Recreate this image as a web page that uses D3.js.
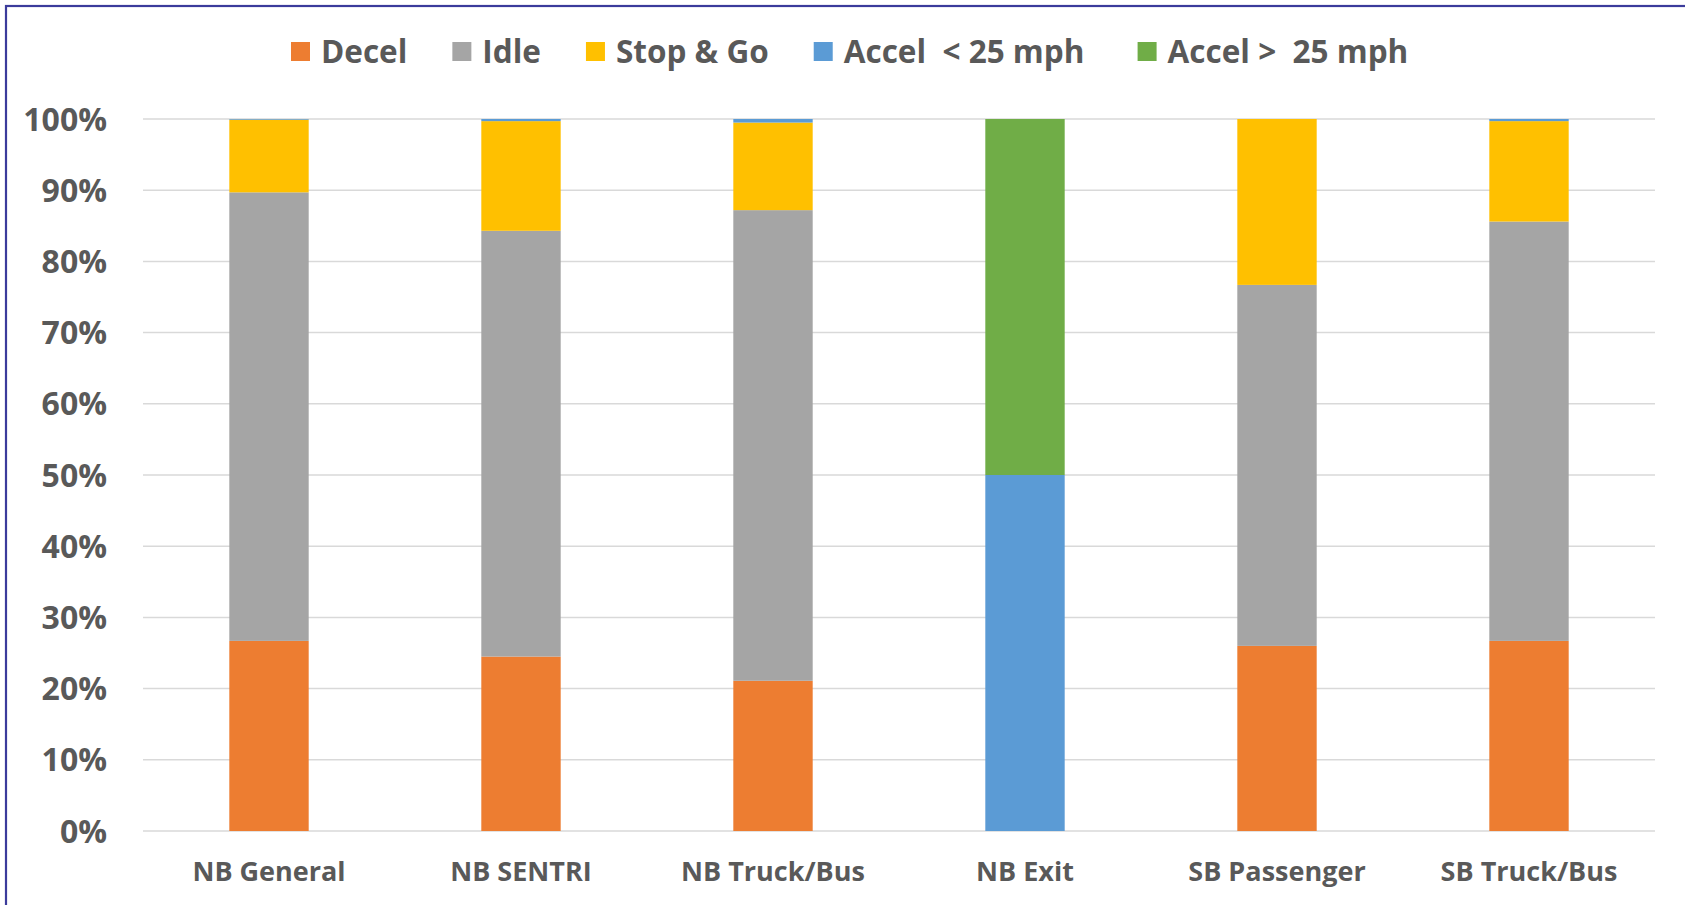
<!DOCTYPE html>
<html lang="en">
<head>
  <meta charset="UTF-8">
  <title>Drive mode share</title>
  <script src="https://d3js.org/d3.v7.min.js"></script>
  <style>
    * { margin: 0; padding: 0; box-sizing: border-box; }
    body { background: #fff; width: 1685px; height: 905px; overflow: hidden; }
    svg text { font-family: 'Open Sans', 'Lato', sans-serif; font-weight: bold; fill: #595959; white-space: pre; }
    .grid line { stroke: #d9d9d9; stroke-width: 1.5px; }
  </style>
</head>
<body>
  <svg id="chart" width="1685" height="905"></svg>
  <script>
    // data (percent of time)
    var categories = ["NB General", "NB SENTRI", "NB Truck/Bus", "NB Exit", "SB Passenger", "SB Truck/Bus"];
    var seriesNames = ["Decel", "Idle", "Stop & Go", "Accel  < 25 mph ", "Accel >  25 mph"];
    var decel    = [26.7, 24.5, 21.1, 0, 26.0, 26.7];
    var idle     = [63.0, 59.8, 66.1, 0, 50.7, 58.9];
    var stopGo   = [10.2, 15.4, 12.3, 0, 23.3, 14.1];
    var accelLo  = [0.1, 0.3, 0.5, 50, 0, 0.3];
    var accelHi  = [0, 0, 0, 50, 0, 0];
    var yTicks   = [0, 10, 20, 30, 40, 50, 60, 70, 80, 90, 100];
    var colors   = ["#ed7d31", "#a5a5a5", "#ffc000", "#5b9bd5", "#70ad47"];

    var svg = d3.select("#chart");

    // frame
    svg.append("rect")
      .attr("x", 6).attr("y", 6)
      .attr("width", 1700).attr("height", 920)
      .attr("fill", "none")
      .attr("stroke", "#3b3b9b")
      .attr("stroke-width", 2.2);

    var plotL = 143, plotR = 1655, plotT = 119, plotB = 831;

    var x = d3.scaleBand()
      .domain(categories)
      .range([plotL, plotR])
      .paddingInner(0.685)
      .paddingOuter(0.3425);

    var y = d3.scaleLinear().domain([0, 100]).range([plotB, plotT]);

    // gridlines
    svg.append("g").attr("class", "grid")
      .selectAll("line")
      .data(yTicks)
      .enter().append("line")
      .attr("x1", plotL).attr("x2", plotR)
      .attr("y1", function(d) { return y(d); })
      .attr("y2", function(d) { return y(d); });

    // y labels
    svg.append("g")
      .selectAll("text")
      .data(yTicks)
      .enter().append("text")
      .attr("x", 107)
      .attr("y", function(d) { return y(d); })
      .attr("dy", "0.36em")
      .attr("text-anchor", "end")
      .style("font-size", "32px")
      .text(function(d) { return d + "%"; });

    // stacked bars
    var rows = categories.map(function(c, i) {
      var r = { cat: c };
      r[seriesNames[0]] = decel[i];
      r[seriesNames[1]] = idle[i];
      r[seriesNames[2]] = stopGo[i];
      r[seriesNames[3]] = accelLo[i];
      r[seriesNames[4]] = accelHi[i];
      return r;
    });
    var stacked = d3.stack().keys(seriesNames)(rows);

    svg.append("g")
      .selectAll("g")
      .data(stacked)
      .enter().append("g")
      .attr("fill", function(d, i) { return colors[i]; })
      .selectAll("rect")
      .data(function(d) { return d; })
      .enter().append("rect")
      .attr("x", function(d) { return x(d.data.cat); })
      .attr("width", x.bandwidth())
      .attr("y", function(d) { return y(d[1]); })
      .attr("height", function(d) { return y(d[0]) - y(d[1]); });

    // x labels
    svg.append("g")
      .selectAll("text")
      .data(categories)
      .enter().append("text")
      .attr("x", function(d) { return x(d) + x.bandwidth() / 2; })
      .attr("y", 871)
      .attr("dy", "0.36em")
      .attr("text-anchor", "middle")
      .style("font-size", "27px")
      .text(function(d) { return d; });

    // legend
    var lg = svg.append("g");
    var lx = 291;
    seriesNames.forEach(function(name, i) {
      lg.append("rect")
        .attr("x", lx).attr("y", 42)
        .attr("width", 19).attr("height", 19)
        .attr("fill", colors[i]);
      var t = lg.append("text")
        .attr("x", lx + 30).attr("y", 52)
        .attr("dy", "0.36em")
        .style("font-size", "31.5px")
        .text(name);
      lx = lx + 30 + t.node().getComputedTextLength() + 45;
    });
  </script>
</body>
</html>
